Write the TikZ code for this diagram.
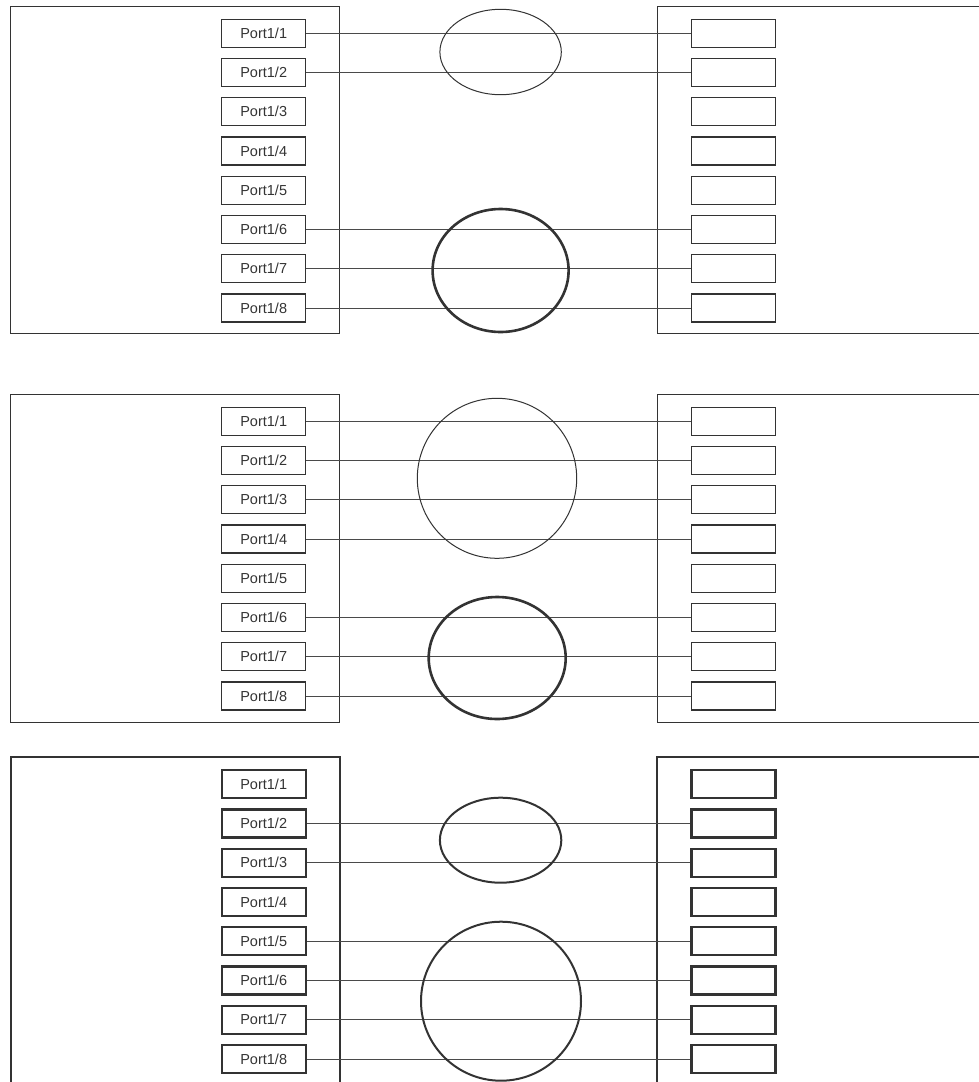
\documentclass[tikz,border=0pt]{standalone}
\usepackage{fontspec}
\setmainfont{Liberation Sans}
\usetikzlibrary{positioning}
\definecolor{lagline}{HTML}{333333}
\definecolor{lagwire}{HTML}{4A4A4A}
\tikzset{
  portbox/.style={draw=lagline, minimum width=84pt, minimum height=28pt,
    inner sep=0pt, font=\fontsize{14.5}{17}\selectfont, text=lagline},
  chassis/.style={draw=lagline, line width=1.1pt},
  link/.style={draw=lagwire, line width=1pt},
  lagthin/.style={draw=lagline, line width=1pt},
  lagthick/.style={draw=lagline, line width=2.6pt},
  lagmid/.style={draw=lagline, line width=2pt},
}

\begin{document}
\begin{tikzpicture}[x=1pt, y=-1pt]
    \useasboundingbox (0,0) rectangle (979,1082);
    % chassis outlines
    \draw[chassis] (10.7,6.3) rectangle (339.7,333.7);
    \draw[chassis] (979,6.3) -- (657.4,6.3) -- (657.4,333.7) -- (979,333.7);
    \draw[chassis] (10.7,394.3) rectangle (339.7,722.3);
    \draw[chassis] (979,394.3) -- (657.4,394.3) -- (657.4,722.3) -- (979,722.3);
    \draw[chassis, line width=2pt] (10.7,1082) -- (10.7,757.3) -- (339.7,757.3) -- (339.7,1082);
    \draw[chassis, line width=2pt] (979,757.3) -- (657.4,757.3) -- (657.4,1082);
    % ports
    \foreach \k/\top/\lw in {1/6.3/1.3pt, 2/394.3/1.3pt, 3/757.3/2.2pt} {
      \foreach \i in {1,...,8} {
        \node[portbox, line width=\lw] (L\k-\i) at (263.7, {\top+27+39.25*(\i-1)}) {Port1/\i};
        \node[portbox, line width=\lw] (R\k-\i) at (733.5, {\top+27+39.25*(\i-1)}) {};
      }
    }
    % links
    \foreach \i in {1,2,6,7,8} \draw[link] (L1-\i.east) -- (R1-\i.west);
    \foreach \i in {1,2,3,4,6,7,8} \draw[link] (L2-\i.east) -- (R2-\i.west);
    \foreach \i in {2,3,5,6,7,8} \draw[link] (L3-\i.east) -- (R3-\i.west);
    % aggregation groups
    \draw[lagthin] (500.6,52) ellipse [x radius=60.7, y radius=42.7];
    \draw[lagthick] (500.6,270.5) ellipse [x radius=68, y radius=61.5];
    \draw[lagthin] (497,478.3) ellipse [x radius=79.7, y radius=80];
    \draw[lagthick] (497.2,658) ellipse [x radius=68.5, y radius=61];
    \draw[lagmid] (500.6,840.2) ellipse [x radius=60.7, y radius=42.5];
    \draw[lagmid] (501,1001.2) ellipse [x radius=80, y radius=79.5];
  \end{tikzpicture}
\end{document}
